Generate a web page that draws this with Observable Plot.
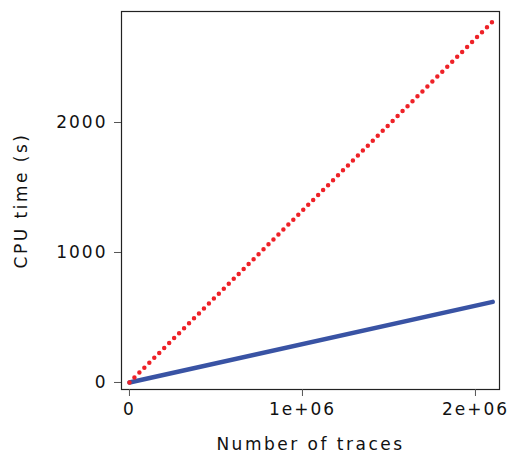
<!DOCTYPE html>
<html>
<head>
<meta charset="utf-8">
<script src="https://cdn.jsdelivr.net/npm/d3@7"></script>
<script src="https://cdn.jsdelivr.net/npm/@observablehq/plot@0.6"></script>
<style>
  body { margin: 0; background: #fff; }
  svg text { letter-spacing: 2px; }
  g[aria-label="y-axis label"] text, g[aria-label="x-axis label"] text { letter-spacing: 2.5px; }
</style>
</head>
<body>
<div id="chart"></div>
<script>
const traces = [0, 2100000];
const cpuRed = [0, 2777];
const cpuBlue = [0, 620];
const xTicks = [0, 1000000, 2000000];
const xTickLabels = ["0", "1e+06", "2e+06"];
const yTicks = [0, 1000, 2000];
const yTickLabels = ["0", "1000", "2000"];

const red = traces.map((t, i) => ({x: t, y: cpuRed[i]}));
const blue = traces.map((t, i) => ({x: t, y: cpuBlue[i]}));

const chart = Plot.plot({
  width: 508,
  height: 454,
  marginLeft: 121,
  marginRight: 9,
  marginTop: 11,
  marginBottom: 65,
  style: {fontSize: "17px", fontFamily: "DejaVu Sans, sans-serif", color: "#111", background: "#fff"},
  x: {domain: [-46000, 2139000]},
  y: {domain: [-54, 2854]},
  marks: [
    Plot.frame({stroke: "#222", strokeWidth: 1.2}),
    Plot.line(blue, {x: "x", y: "y", stroke: "#3953a4", strokeWidth: 4.5}),
    Plot.line(red, {x: "x", y: "y", stroke: "#ee2127", strokeWidth: 4.5, strokeDasharray: "0 7", strokeLinecap: "round"}),
    Plot.axisY({ticks: yTicks, tickFormat: d => yTickLabels[yTicks.indexOf(d)], tickSize: 7, tickPadding: 7, stroke: "#555", label: "CPU time (s)", labelAnchor: "center", labelOffset: 107, labelArrow: false}),
    Plot.axisX({ticks: xTicks, tickFormat: d => xTickLabels[xTicks.indexOf(d)], tickSize: 7, tickPadding: 6, stroke: "#555", label: "Number of traces", labelAnchor: "center", labelOffset: 60, labelArrow: false})
  ]
});
document.getElementById("chart").appendChild(chart);
</script>
</body>
</html>
